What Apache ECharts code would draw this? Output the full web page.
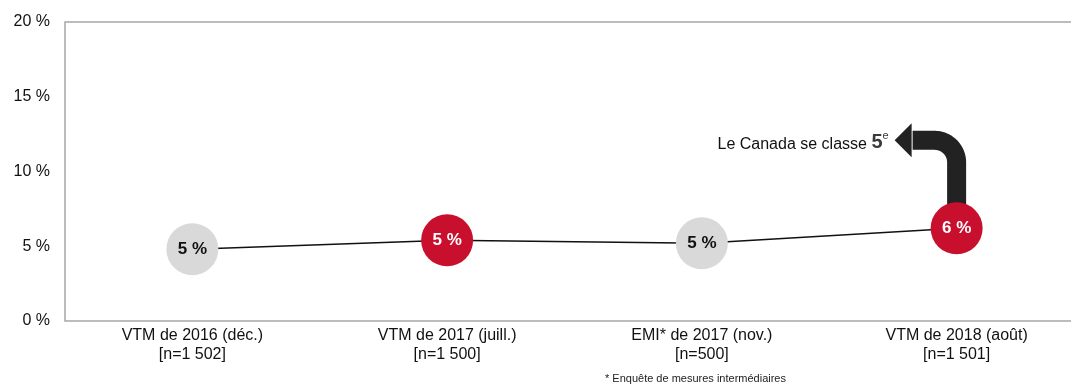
<!DOCTYPE html>
<html>
<head>
<meta charset="utf-8">
<script src="https://cdn.jsdelivr.net/npm/echarts@6/dist/echarts.min.js"></script>
<style>
  html, body { margin: 0; padding: 0; background: #fff; }
  #chart { width: 1071px; height: 385px; }
</style>
</head>
<body>
<div id="chart"></div>
<script>
// Survey waves and their sample sizes
const categories = [
  'VTM de 2016 (déc.)\n[n=1 502]',
  'VTM de 2017 (juill.)\n[n=1 500]',
  'EMI* de 2017 (nov.)\n[n=500]',
  'VTM de 2018 (août)\n[n=1 501]'
];
// Share of respondents (%) per wave
const values = [4.8, 5.4, 5.2, 6.2];
// Marker fill per wave: grey for baseline / interim waves, red for highlighted waves
const markerColors = ['#d9d9d9', '#c8102e', '#d9d9d9', '#c8102e'];
const labelColors = ['#111111', '#ffffff', '#111111', '#ffffff'];
const yTicks = { min: 0, max: 20, interval: 5 };

const FONT = '"Liberation Sans", Arial, sans-serif';
const ARROW = '#222222';

const chart = echarts.init(document.getElementById('chart'), null, { renderer: 'canvas' });

chart.setOption({
  animation: false,
  backgroundColor: '#ffffff',
  grid: {
    left: 65, width: 1019, top: 22, bottom: 64,
    outerBoundsMode: 'none',
    show: true, borderColor: '#a6a6a6', borderWidth: 1.5,
    containLabel: false
  },
  xAxis: {
    type: 'category',
    data: categories,
    boundaryGap: true,
    axisLine: { show: false },
    axisTick: { show: false },
    axisLabel: {
      color: '#111', fontFamily: FONT, fontSize: 16, lineHeight: 19,
      margin: 5, interval: 0
    }
  },
  yAxis: {
    type: 'value',
    min: yTicks.min, max: yTicks.max, interval: yTicks.interval,
    axisLine: { show: false },
    axisTick: { show: false },
    splitLine: { show: false },
    axisLabel: {
      color: '#111', fontFamily: FONT, fontSize: 16, margin: 15,
      formatter: '{value} %'
    }
  },
  series: [{
    type: 'line',
    data: values.map((v, i) => ({
      value: v,
      itemStyle: { color: markerColors[i] },
      label: { color: labelColors[i] }
    })),
    symbol: 'circle',
    symbolSize: 52,
    lineStyle: { color: '#111', width: 1.4 },
    itemStyle: { borderWidth: 0 },
    z: 3,
    label: {
      show: true,
      position: 'inside',
      fontFamily: FONT,
      fontSize: 17,
      fontWeight: 'bold',
      formatter: p => Math.round(p.value) + ' %'
    }
  }]
});

// Ranking callout: curved arrow rising from the latest wave's marker
const last = values.length - 1;
const [px, py] = chart.convertToPixel({ gridIndex: 0 }, [last, values[last]]);
const armY = py - 88;
const R = 22;

// Shaft as one continuous stroke: up, rounded corner, then left
const shaftPts = [[px, py - 20], [px, armY + R]];
for (let k = 1; k < 16; k++) {
  const a = (k / 16) * (Math.PI / 2);
  shaftPts.push([px - R + R * Math.cos(a), armY + R - R * Math.sin(a)]);
}
shaftPts.push([px - R, armY], [px - 44, armY]);

chart.setOption({
  graphic: [
    {
      type: 'polyline', z: 1, silent: true,
      shape: { points: shaftPts },
      style: { stroke: ARROW, lineWidth: 19, lineCap: 'butt', lineJoin: 'round', fill: null }
    },
    {
      type: 'polygon', z: 1, silent: true,
      shape: { points: [[px - 45, armY - 17], [px - 45, armY + 17], [px - 62, armY]] },
      style: { fill: ARROW }
    },
    {
      type: 'text',
      z: 5,
      x: px - 68,
      y: armY + 1,
      style: {
        text: '{a|Le Canada se classe }{b|5}{c|e}',
        align: 'right',
        verticalAlign: 'middle',
        rich: {
          a: { fontFamily: FONT, fontSize: 16, fill: '#111', verticalAlign: 'bottom', lineHeight: 22 },
          b: { fontFamily: FONT, fontSize: 20, fontWeight: 'bold', fill: '#3a3a3a', verticalAlign: 'bottom', lineHeight: 22 },
          c: { fontFamily: FONT, fontSize: 11, fill: '#3a3a3a', verticalAlign: 'top', lineHeight: 22 }
        }
      }
    },
    {
      type: 'text',
      left: 605,
      top: 373,
      style: {
        text: '* Enquête de mesures intermédiaires',
        fontFamily: FONT, fontSize: 11, fill: '#222'
      }
    }
  ]
});
</script>
</body>
</html>
